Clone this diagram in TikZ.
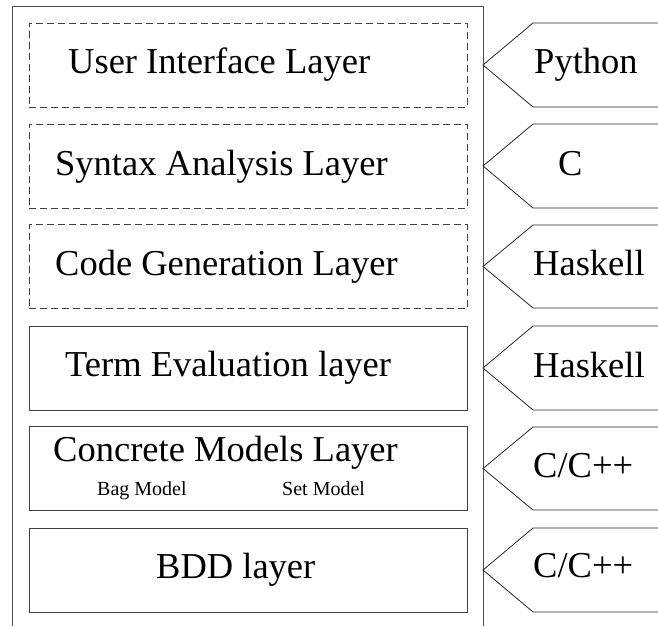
\documentclass[tikz,border=0pt]{standalone}
\usepackage{fontspec}
\setmainfont{Liberation Serif}
\begin{document}
\begin{tikzpicture}[x=1pt,y=-1pt,
  frame/.style={draw=black!70,line width=1pt},
  layerbox/.style={draw=black!75,line width=1pt,minimum width=438pt,minimum height=84pt,inner sep=0pt,outer sep=0pt},
  dashbox/.style={layerbox,dash pattern=on 7pt off 4pt,line width=0.8pt},
  langshape/.style={draw=black!85,line width=0.8pt},
  big/.style={font=\fontsize{36.5}{40}\selectfont,inner sep=0pt,anchor=base west},
  small/.style={font=\fontsize{20}{22}\selectfont,inner sep=0pt,anchor=base west}]
\useasboundingbox (0,0) rectangle (658,626);
% outer frame
\coordinate (fbl) at (12,626);
\coordinate (ftl) at (12,7);
\coordinate (ftr) at (483,7);
\coordinate (fbr) at (483,626);
\draw[frame] (fbl) -- (ftl) -- (ftr) -- (fbr);
% layer boxes
\node[dashbox]  (b1) at (248,65) {};
\node[dashbox]  (b2) at (248,166) {};
\node[dashbox]  (b3) at (248,266.5) {};
\node[layerbox] (b4) at (248,368) {};
\node[layerbox] (b5) at (248,468.5) {};
\node[layerbox] (b6) at (248,570) {};
% layer texts
\node[big] (t1) at (68,74) {User Interface Layer};
\node[big] (t2) at (55,175) {Syntax Analysis Layer};
\node[big] (t3) at (55,275) {Code Generation Layer};
\node[big] (t4) at (65,376) {Term Evaluation layer};
\node[big] (t5) at (53,461) {Concrete Models Layer};
\node[small] (t5a) at (97,495) {Bag Model};
\node[small] (t5b) at (282,495) {Set Model};
\node[big] (t6) at (156,578) {BDD layer};
% language tags
\foreach \i/\t/\b in {1/23/107,2/124/208,3/225/308,4/326/410,5/427/510,6/528/612}{
  \coordinate (p\i a) at (660,\t);
  \coordinate (p\i b) at (533,\t);
  \coordinate (p\i c) at (483,{(\t+\b)/2});
  \coordinate (p\i d) at (533,\b);
  \coordinate (p\i e) at (660,\b);
  \draw[langshape] (p\i a) -- (p\i b) -- (p\i c) -- (p\i d) -- (p\i e);
}
\node[big] (l1) at (534,74) {Python};
\node[big] (l2) at (558,175) {C};
\node[big] (l3) at (533,275) {Haskell};
\node[big] (l4) at (533,377) {Haskell};
\node[big] (l5) at (533,477) {C/C++};
\node[big] (l6) at (533,577) {C/C++};
\end{tikzpicture}
\end{document}
